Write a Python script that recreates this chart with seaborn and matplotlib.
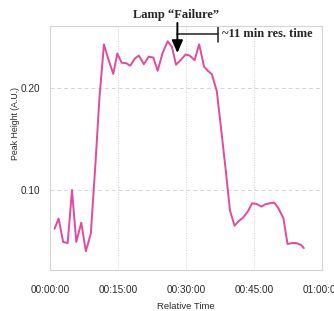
import matplotlib
matplotlib.use("Agg")
import matplotlib.pyplot as plt
from matplotlib.ticker import FuncFormatter, MultipleLocator
import numpy as np
import pandas as pd
import seaborn as sns

# relative time in minutes, peak height in A.U.
rel_time = [1.0, 1.9, 2.9, 3.9, 4.85, 5.8, 6.9, 7.9, 9.0, 10.0,
            10.9, 11.9, 12.9, 13.95, 14.85, 15.8, 16.8, 17.7, 18.7, 19.6,
            20.7, 21.8, 22.8, 23.75, 24.8, 25.95, 26.9, 27.8, 28.9, 29.9,
            30.8, 31.9, 32.9, 34.0, 34.9, 35.7, 36.8, 37.8, 38.8, 39.7,
            40.7, 41.6, 42.6, 43.7, 44.6, 45.6, 46.6, 47.5, 48.5, 49.5,
            50.4, 51.5, 52.4, 53.4, 54.3, 55.4, 56.0]
peak_height = [0.062, 0.072, 0.049, 0.048, 0.100, 0.049, 0.068, 0.040, 0.057, 0.124,
               0.190, 0.243, 0.228, 0.214, 0.234, 0.225, 0.2245, 0.222, 0.229, 0.232,
               0.2235, 0.231, 0.230, 0.217, 0.234, 0.246, 0.2405, 0.223, 0.228, 0.233,
               0.232, 0.2275, 0.243, 0.221, 0.2167, 0.2137, 0.197, 0.158, 0.118, 0.080,
               0.065, 0.0693, 0.0729, 0.0794, 0.087, 0.0863, 0.0837, 0.086, 0.087, 0.0876,
               0.082, 0.0722, 0.047, 0.048, 0.048, 0.046, 0.043]

x_ticks = [0, 15, 30, 45, 60]
y_ticks = [0.10, 0.20]

failure_time = 28.1      # lamp failure (arrow)
res_time_end = 37.1      # end of the residence-time bar


def fmt_time(m, pos):
    m = int(round(m))
    return f'{m // 60:02d}:{m % 60:02d}:00'


def main():
    sns.set_style('white')
    plt.rcParams['font.family'] = ['Liberation Sans', 'DejaVu Sans']
    df = pd.DataFrame({'t': rel_time, 'h': peak_height})

    fig = plt.figure(figsize=(3.34, 3.11), dpi=100)
    ax = fig.add_axes([0.1497, 0.1318, 0.8143, 0.7846])
    sns.lineplot(data=df, x='t', y='h', color='#e04a9f', linewidth=1.4, ax=ax)

    ax.set_xlim(0, 60)
    ax.set_ylim(0.0215, 0.261)
    ax.set_xticks(x_ticks)
    ax.set_yticks(y_ticks)
    ax.xaxis.set_minor_locator(MultipleLocator(5))
    ax.yaxis.set_minor_locator(MultipleLocator(0.02))
    ax.xaxis.set_major_formatter(FuncFormatter(fmt_time))
    ax.yaxis.set_major_formatter(FuncFormatter(lambda v, p: f'{v:.2f}'))

    ax.grid(axis='y', which='major', color='#d2d5dc', linestyle=(0, (4, 3)), linewidth=0.7)
    ax.grid(axis='x', which='major', color='#cdd1e0', linestyle=(0, (1, 1.5)), linewidth=0.7)
    for s in ax.spines.values():
        s.set_color('#d4d4d4')
        s.set_linewidth(0.8)
    ax.tick_params(which='both', direction='out', colors='#c8c8c8', width=0.7,
                   labelcolor='#2a2a2a', labelsize=7.2)
    ax.tick_params(which='major', length=4, pad=7)
    ax.tick_params(which='minor', length=3)
    ax.tick_params(axis='y', which='major', pad=3)

    ax.set_xlabel('Relative Time', fontsize=6.8, color='#2a2a2a', labelpad=5)
    ax.set_ylabel('Peak Height (A.U.)', fontsize=6.3, color='#2a2a2a')
    ax.yaxis.set_label_coords(-0.112, 0.6)

    # annotations
    serif = ['Liberation Serif', 'DejaVu Serif']
    ax.text(failure_time - 0.35, 0.2716, 'Lamp \u201cFailure\u201d', family=serif,
            fontweight='bold', fontsize=9, ha='center', va='center', clip_on=False)
    ax.annotate('', xy=(failure_time, 0.2345), xytext=(failure_time, 0.2640),
                annotation_clip=False,
                arrowprops=dict(arrowstyle='-|>,head_width=0.33,head_length=0.75',
                                color='black', lw=1.4, shrinkA=0, shrinkB=0))
    ax.plot([failure_time, res_time_end], [0.2536, 0.2536], color='#222222',
            lw=1.1, clip_on=False)
    ax.plot([res_time_end, res_time_end], [0.2455, 0.2600], color='#222222',
            lw=1.1, clip_on=False)
    ax.text(res_time_end + 0.8, 0.2532, '~11 min res. time', family=serif,
            fontweight='bold', fontsize=9, ha='left', va='center', clip_on=False)

    fig.savefig('out.png', dpi=100)


if __name__ == "__main__":
    main()
